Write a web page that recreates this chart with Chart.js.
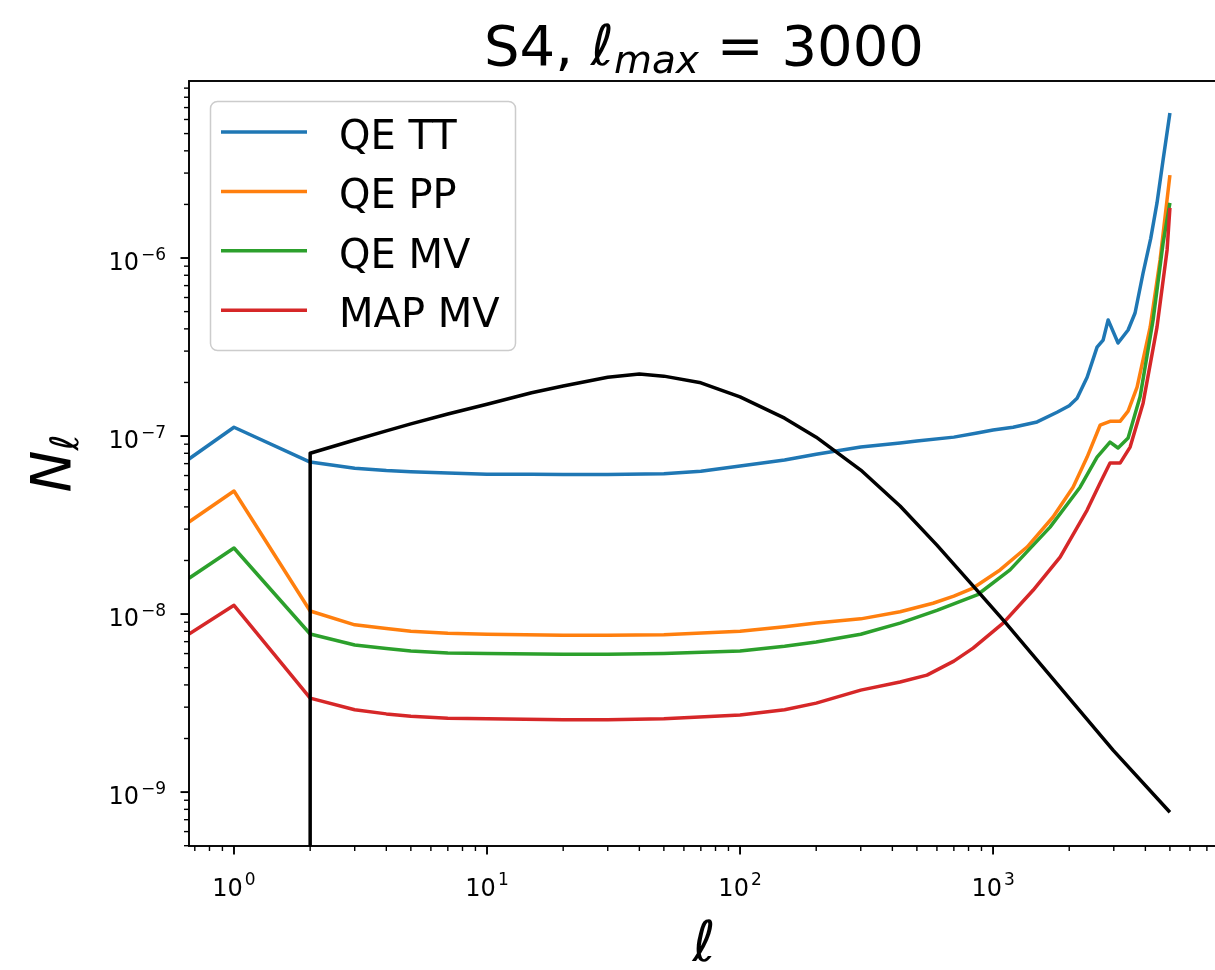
<!DOCTYPE html>
<html><head><meta charset="utf-8">
<script src="https://cdn.jsdelivr.net/npm/chart.js@4.4.0/dist/chart.umd.min.js"></script>
<style>html,body{margin:0;padding:0;background:#fff;overflow:hidden;width:1215px;height:970px}canvas{display:block}</style>
</head><body><canvas id="c" width="1240" height="970"></canvas>
<script>
// ---- data ----
const ttL  = [0.664, 1, 2, 3, 4, 5, 7, 10, 15, 20, 30, 50, 70, 100, 150, 200, 300, 429, 500, 700, 865, 1000, 1200, 1493, 1790, 2000, 2148, 2354, 2577, 2722, 2850, 3119, 3418, 3641, 3917, 4200, 4446, 4700, 5000];
const ttN  = [7.43e-8, 1.12e-7, 7.14e-8, 6.6e-8, 6.4e-8, 6.3e-8, 6.2e-8, 6.1e-8, 6.1e-8, 6.08e-8, 6.08e-8, 6.15e-8, 6.35e-8, 6.78e-8, 7.33e-8, 7.9e-8, 8.67e-8, 9.14e-8, 9.38e-8, 9.86e-8, 1.04e-7, 1.08e-7, 1.12e-7, 1.2e-7, 1.36e-7, 1.48e-7, 1.63e-7, 2.14e-7, 3.16e-7, 3.46e-7, 4.49e-7, 3.33e-7, 3.94e-7, 4.91e-7, 8.24e-7, 1.29e-6, 2.04e-6, 3.56e-6, 6.53e-6];
const ppL  = [0.664, 1, 2, 3, 4, 5, 7, 10, 20, 30, 50, 100, 150, 200, 300, 429, 579, 700, 834, 1066, 1363, 1726, 2071, 2354, 2649, 2899, 3177, 3418, 3709, 4178, 4571, 5000];
const ppN  = [3.29e-8, 4.91e-8, 1.04e-8, 8.7e-9, 8.3e-9, 8.0e-9, 7.8e-9, 7.7e-9, 7.6e-9, 7.6e-9, 7.65e-9, 8.0e-9, 8.5e-9, 8.9e-9, 9.4e-9, 1.03e-8, 1.15e-8, 1.26e-8, 1.4e-8, 1.77e-8, 2.38e-8, 3.51e-8, 5.16e-8, 7.62e-8, 1.15e-7, 1.21e-7, 1.21e-7, 1.38e-7, 1.88e-7, 4.09e-7, 9.75e-7, 2.92e-6];
const mvL  = [0.664, 1, 2, 3, 4, 5, 7, 10, 20, 30, 50, 100, 150, 200, 300, 429, 600, 865, 1167, 1680, 2208, 2577, 2899, 3119, 3418, 3811, 4290, 4698, 5000];
const mvN  = [1.59e-8, 2.35e-8, 7.73e-9, 6.7e-9, 6.4e-9, 6.2e-9, 6.05e-9, 6.0e-9, 5.95e-9, 5.95e-9, 6.0e-9, 6.2e-9, 6.6e-9, 6.97e-9, 7.7e-9, 8.9e-9, 1.05e-8, 1.28e-8, 1.77e-8, 3.08e-8, 5.16e-8, 7.62e-8, 9.25e-8, 8.57e-8, 9.75e-8, 1.66e-7, 4.49e-7, 1.21e-6, 2.04e-6];
const mapL = [0.664, 1, 2, 3, 4, 5, 7, 10, 20, 30, 50, 100, 150, 200, 300, 429, 548, 700, 834, 1096, 1439, 1841, 2354, 2649, 2899, 3177, 3481, 3917, 4446, 4874, 5000];
const mapN = [7.73e-9, 1.12e-8, 3.37e-9, 2.9e-9, 2.75e-9, 2.67e-9, 2.6e-9, 2.58e-9, 2.55e-9, 2.55e-9, 2.58e-9, 2.71e-9, 2.9e-9, 3.16e-9, 3.74e-9, 4.15e-9, 4.54e-9, 5.44e-9, 6.44e-9, 8.9e-9, 1.36e-8, 2.09e-8, 3.84e-8, 5.45e-8, 7.05e-8, 7.05e-8, 8.67e-8, 1.53e-7, 4.09e-7, 1.11e-6, 1.91e-6];
const phiL = [2, 2, 3, 4, 5, 7, 10, 15, 20, 30, 40, 50, 70, 100, 150, 200, 300, 429, 600, 849, 1115, 2980, 5000];
const phiN = [1e-12, 8.0e-8, 9.5e-8, 1.07e-7, 1.17e-7, 1.33e-7, 1.51e-7, 1.75e-7, 1.91e-7, 2.14e-7, 2.23e-7, 2.17e-7, 1.99e-7, 1.66e-7, 1.26e-7, 9.86e-8, 6.44e-8, 4.05e-8, 2.44e-8, 1.4e-8, 9.0e-9, 1.72e-9, 7.7e-10];

const seriesLabels = ['QE TT', 'QE PP', 'QE MV', 'MAP MV'];
const seriesColors = ['#1f77b4', '#ff7f0e', '#2ca02c', '#d62728'];

const xTickValues = [1, 10, 100, 1000];
const xTickExps   = ['0', '1', '2', '3'];
const yTickValues = [1e-9, 1e-8, 1e-7, 1e-6];
const yTickExps   = ['\u22129', '\u22128', '\u22127', '\u22126'];

const X_MIN = 0.664, X_MAX = 7816, Y_MIN = 4.98e-10, Y_MAX = 9.87e-6;

// ---- helpers ----
const pts = (L, V) => L.map((l, i) => ({x: l, y: V[i]}));
function logTicks(min, max) {
  const out = [];
  for (let e = Math.floor(Math.log10(min)); e <= Math.ceil(Math.log10(max)); e++) {
    for (let m = 1; m <= 9; m++) {
      const v = m * Math.pow(10, e);
      if (v >= min * 0.9999 && v <= max * 1.0001) out.push({value: v, major: m === 1});
    }
  }
  return out;
}

const FONT = '"DejaVu Sans", "Liberation Sans", sans-serif';
Chart.defaults.font.family = FONT;

// ---- plugins ----
const frameAndTicks = {
  id: 'frameAndTicks',
  afterDatasetsDraw(chart) {
    const ctx = chart.ctx, a = chart.chartArea, xs = chart.scales.x, ys = chart.scales.y;
    ctx.save();
    ctx.strokeStyle = '#000';
    xs.ticks.forEach(t => {
      const p = xs.getPixelForValue(t.value);
      ctx.lineWidth = t.major ? 1.9 : 1.4;
      ctx.beginPath(); ctx.moveTo(p, a.bottom); ctx.lineTo(p, a.bottom + (t.major ? 8.5 : 5)); ctx.stroke();
    });
    ys.ticks.forEach(t => {
      const p = ys.getPixelForValue(t.value);
      ctx.lineWidth = t.major ? 1.9 : 1.4;
      ctx.beginPath(); ctx.moveTo(a.left, p); ctx.lineTo(a.left - (t.major ? 8.5 : 5), p); ctx.stroke();
    });
    ctx.lineWidth = 1.9;
    ctx.strokeRect(a.left, a.top, a.right - a.left, a.bottom - a.top);

    // tick labels 10^n with real superscripts, positioned by the scales
    ctx.fillStyle = '#000'; ctx.textBaseline = 'alphabetic'; ctx.textAlign = 'left';
    const BASE = '24px ' + FONT, EXP = '17px ' + FONT;
    xTickValues.forEach((v, i) => {
      const p = xs.getPixelForValue(v);
      ctx.font = BASE; const wb = ctx.measureText('10').width;
      ctx.font = EXP; const we = ctx.measureText(xTickExps[i]).width;
      const x0 = p - (wb + 2 + we) / 2;
      ctx.font = BASE; ctx.fillText('10', x0, a.bottom + 50);
      ctx.font = EXP; ctx.fillText(xTickExps[i], x0 + wb + 2, a.bottom + 39);
    });
    yTickValues.forEach((v, i) => {
      const p = ys.getPixelForValue(v);
      ctx.font = BASE; const wb = ctx.measureText('10').width;
      ctx.font = EXP; const we = ctx.measureText(yTickExps[i]).width;
      const x0 = a.left - 23 - (wb + 2 + we);
      ctx.font = BASE; ctx.fillText('10', x0, p + 12);
      ctx.font = EXP; ctx.fillText(yTickExps[i], x0 + wb + 2, p + 2);
    });
    ctx.restore();
  }
};

const legendBox = {
  id: 'legendBox',
  afterDraw(chart) {
    const ctx = chart.ctx;
    ctx.save();
    ctx.beginPath();
    ctx.roundRect(210.5, 101.5, 305, 249, 7);
    ctx.fillStyle = 'rgba(255,255,255,0.8)';
    ctx.fill();
    ctx.strokeStyle = '#cccccc';
    ctx.lineWidth = 1.5;
    ctx.stroke();
    const items = chart.data.datasets.filter(d => d.inLegend);
    items.forEach((d, i) => {
      const y = 132 + i * 59.4;
      ctx.strokeStyle = d.borderColor; ctx.lineWidth = 3.5; ctx.lineCap = 'butt';
      ctx.beginPath(); ctx.moveTo(221, y); ctx.lineTo(307, y); ctx.stroke();
      ctx.fillStyle = '#000'; ctx.font = '40px ' + FONT; ctx.textBaseline = 'alphabetic'; ctx.textAlign = 'left';
      ctx.fillText(d.label, 339, y + 17);
    });
    ctx.restore();
  }
};

const mathTexts = {
  id: 'mathTexts',
  afterDraw(chart) {
    const ctx = chart.ctx, a = chart.chartArea;
    const cx = (a.left + a.right) / 2;
    ctx.save();
    ctx.fillStyle = '#000'; ctx.textBaseline = 'alphabetic'; ctx.textAlign = 'left';
    // title: S4, ℓ_max = 3000
    const parts = [
      {t: 'S4, ', f: '56px ' + FONT, dy: 0},
      {t: 'ℓ', f: 'italic 56px ' + FONT, dy: 0},
      {t: 'max', f: 'italic 39px ' + FONT, dy: 8},
      {t: ' = 3000', f: '56px ' + FONT, dy: 0}
    ];
    let w = 0;
    parts.forEach(p => { ctx.font = p.f; p.w = ctx.measureText(p.t).width; w += p.w; });
    let x = cx - w / 2;
    parts.forEach(p => { ctx.font = p.f; ctx.fillText(p.t, x, 65 + p.dy); x += p.w; });
    // x label: ℓ
    ctx.font = 'italic 56px ' + FONT; ctx.textAlign = 'center';
    ctx.fillText('ℓ', cx, 961);
    // y label: N_ℓ
    const cy = (a.top + a.bottom) / 2;
    ctx.translate(70, cy);
    ctx.rotate(-Math.PI / 2);
    ctx.textAlign = 'left';
    ctx.font = 'italic 56px ' + FONT; const wN = ctx.measureText('N').width;
    ctx.font = 'italic 39px ' + FONT; const wl = ctx.measureText('ℓ').width;
    const x0 = -(wN + wl) / 2;
    ctx.font = 'italic 56px ' + FONT; ctx.fillText('N', x0, 0);
    ctx.font = 'italic 39px ' + FONT; ctx.fillText('ℓ', x0 + wN, 8);
    ctx.restore();
  }
};

// ---- chart ----
const lineData = [ttL, ppL, mvL, mapL], valData = [ttN, ppN, mvN, mapN];
const datasets = seriesLabels.map((lab, i) => ({
  label: lab, inLegend: true, data: pts(lineData[i], valData[i]),
  borderColor: seriesColors[i], order: 5 - i
}));
datasets.push({label: 'phi', inLegend: false, data: pts(phiL, phiN), borderColor: '#000000', order: 0});

new Chart(document.getElementById('c'), {
  type: 'line',
  data: {datasets},
  options: {
    responsive: false, animation: false, devicePixelRatio: 1, events: [],
    layout: {autoPadding: false, padding: {top: 81, left: 0, right: 21, bottom: 0}},
    elements: {
      line: {borderWidth: 3.5, tension: 0, borderJoinStyle: 'round', fill: false},
      point: {radius: 0, hitRadius: 0, hoverRadius: 0}
    },
    plugins: {legend: {display: false}, tooltip: {enabled: false}, title: {display: false}},
    scales: {
      x: {
        type: 'logarithmic', min: X_MIN, max: X_MAX,
        afterBuildTicks: s => { s.ticks = logTicks(X_MIN, X_MAX); },
        afterFit: s => { s.height = 124; },
        grid: {display: false, drawTicks: false}, border: {display: false},
        ticks: {display: false, autoSkip: false}
      },
      y: {
        type: 'logarithmic', min: Y_MIN, max: Y_MAX,
        afterBuildTicks: s => { s.ticks = logTicks(Y_MIN, Y_MAX); },
        afterFit: s => { s.width = 189; },
        grid: {display: false, drawTicks: false}, border: {display: false},
        ticks: {display: false, autoSkip: false}
      }
    }
  },
  plugins: [frameAndTicks, legendBox, mathTexts]
});
</script></body></html>
